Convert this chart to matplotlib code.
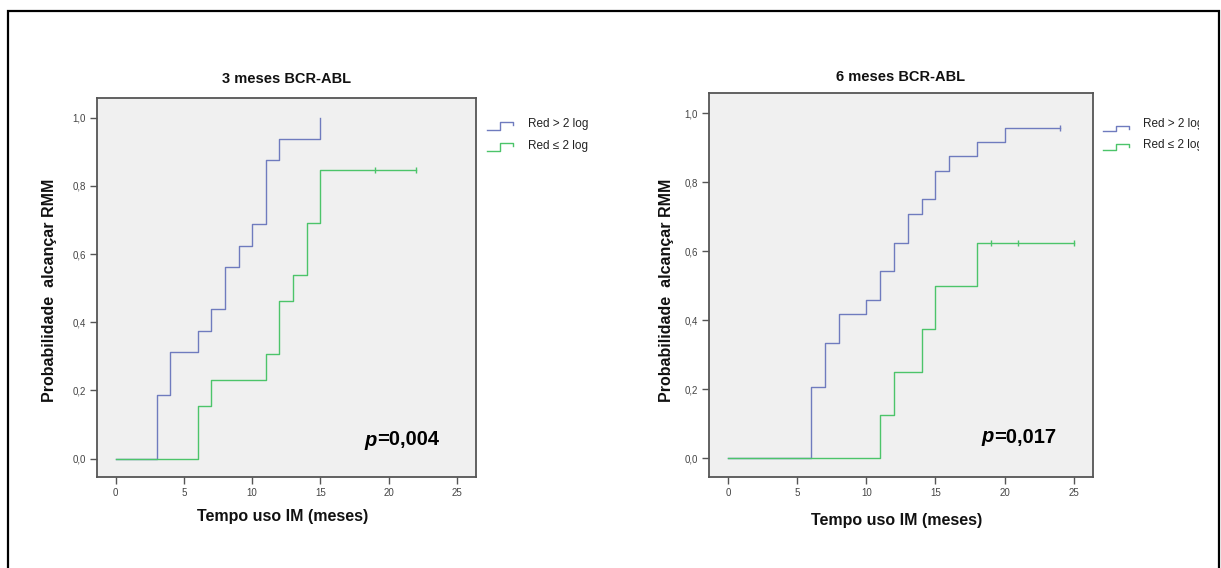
import matplotlib
matplotlib.use("Agg")
import matplotlib.pyplot as plt
from matplotlib.patches import Rectangle
from matplotlib.lines import Line2D
from matplotlib.transforms import Bbox

plt.rcParams["font.family"] = ["Liberation Sans", "DejaVu Sans"]

W, H = 1221, 568

# Kaplan-Meier curves: event times and cumulative probability of RMM
t3_blue = [0, 3, 4, 6, 7, 8, 9, 10, 11, 12, 15]
p3_blue = [0.0, 0.1875, 0.3125, 0.375, 0.4375, 0.5625, 0.625, 0.6875, 0.875, 0.9375, 1.0]
c3_blue = []

t3_green = [0, 6, 7, 11, 12, 13, 14, 15, 22]
p3_green = [0.0, 0.154, 0.231, 0.308, 0.462, 0.538, 0.692, 0.846, 0.846]
c3_green = [19, 22]

t6_blue = [0, 6, 7, 8, 10, 11, 12, 13, 14, 15, 16, 18, 20, 24]
p6_blue = [0.0, 0.208, 0.333, 0.417, 0.458, 0.542, 0.625, 0.708, 0.75, 0.833, 0.875, 0.917, 0.958, 0.958]
c6_blue = [24]

t6_green = [0, 11, 12, 14, 15, 18, 25]
p6_green = [0.0, 0.125, 0.25, 0.375, 0.5, 0.625, 0.625]
c6_green = [19, 21, 25]

titles = ["3 meses BCR-ABL", "6 meses BCR-ABL"]
p_values = ["=0,004", "=0,017"]
series_labels = ["Red > 2 log", "Red \u2264 2 log"]
x_ticks = [0, 5, 10, 15, 20, 25]
y_ticks = [0.0, 0.2, 0.4, 0.6, 0.8, 1.0]
y_ticklabels = ["0,0", "0,2", "0,4", "0,6", "0,8", "1,0"]
xlabel = "Tempo uso IM (meses)"
ylabel = "Probabilidade  alcan\u00e7ar RMM"

BLUE = "#6f7bbe"
GREEN = "#4cc46a"
SPINE = "#555555"


def fx(px):
    return px / W


def fy(py):
    return 1 - py / H


fig = plt.figure(figsize=(W / 100, H / 100), dpi=100)
fig.patch.set_facecolor("white")

# outer frame
fig.patches.append(Rectangle((fx(8), fy(575)), fx(1219) - fx(8), fy(11) - fy(575),
                             transform=fig.transFigure, fill=False,
                             edgecolor="black", linewidth=1.6))

panels = [
    dict(box=(97, 98, 476, 477), curves=[(t3_blue, p3_blue, c3_blue, BLUE),
                                         (t3_green, p3_green, c3_green, GREEN)],
         title_y=79, xl_y=516, yl_x=50, p_xy=(377, 440),
         leg=(487, 528, [(130, 122, 124), (151, 143, 146)])),
    dict(box=(709, 93, 1093, 477), curves=[(t6_blue, p6_blue, c6_blue, BLUE),
                                           (t6_green, p6_green, c6_green, GREEN)],
         title_y=77, xl_y=520, yl_x=666, p_xy=(994, 437),
         leg=(1103, 1143, [(131, 126, 124), (150, 144, 145)])),
]

# legend labels are cut off at the right margin
clip = Bbox([[0, 0], [1199, H]])

for i, pn in enumerate(panels):
    x0, y0, x1, y1 = pn["box"]
    ax = fig.add_axes([fx(x0), fy(y1), fx(x1) - fx(x0), fy(y0) - fy(y1)])
    ax.set_facecolor("#f0f0f0")
    ax.set_xlim(-1.37, 26.4)
    ax.set_ylim(-0.054, 1.058)
    for t, p, cens, col in pn["curves"]:
        ax.step(t, p, where="post", color=col, linewidth=1.0)
        if cens:
            last = p[-1]
            ax.plot(cens, [last] * len(cens), linestyle="none", marker="|",
                    markersize=5, markeredgewidth=1.0, color=col)
    ax.set_xticks(x_ticks)
    ax.set_xticklabels([str(v) for v in x_ticks])
    ax.set_yticks(y_ticks)
    ax.set_yticklabels(y_ticklabels)
    ax.tick_params(axis="both", direction="out", length=5, width=1.0,
                   colors=SPINE, labelsize=7, labelcolor="#444444", pad=3)
    for s in ax.spines.values():
        s.set_color(SPINE)
        s.set_linewidth(1.3)

    cx = (x0 + x1) / 2
    fig.text(fx(cx), fy(pn["title_y"]), titles[i], ha="center", va="center",
             fontsize=10.5, fontweight="bold", color="#111111")
    fig.text(fx(cx - 4), fy(pn["xl_y"]), xlabel, ha="center", va="center",
             fontsize=11.5, fontweight="bold", color="#111111")
    fig.text(fx(pn["yl_x"]), fy(290), ylabel, ha="center", va="center",
             rotation=90, fontsize=11.5, fontweight="bold", color="#111111")

    px_, py_ = pn["p_xy"]
    fig.text(fx(px_), fy(py_), "p", ha="right", va="center", fontsize=14.5,
             fontweight="bold", fontstyle="italic", color="black")
    fig.text(fx(px_), fy(py_), p_values[i], ha="left", va="center",
             fontsize=14.5, fontweight="bold", color="black")

    # legend: step-shaped keys with labels
    sx, tx, rows = pn["leg"]
    for (low, top, ty), col, lab in zip(rows, [BLUE, GREEN], series_labels):
        xs = [sx, sx + 13, sx + 13, sx + 26, sx + 26]
        ys = [low, low, top, top, top + 3]
        fig.add_artist(Line2D([fx(v) for v in xs], [fy(v) for v in ys],
                              transform=fig.transFigure, color=col, linewidth=1.0))
        txt = fig.text(fx(tx), fy(ty), lab, ha="left", va="center",
                       fontsize=8.5, color="#222222")
        txt.set_clip_on(True)
        txt.set_clip_box(clip)

fig.savefig("out.png", dpi=100)
